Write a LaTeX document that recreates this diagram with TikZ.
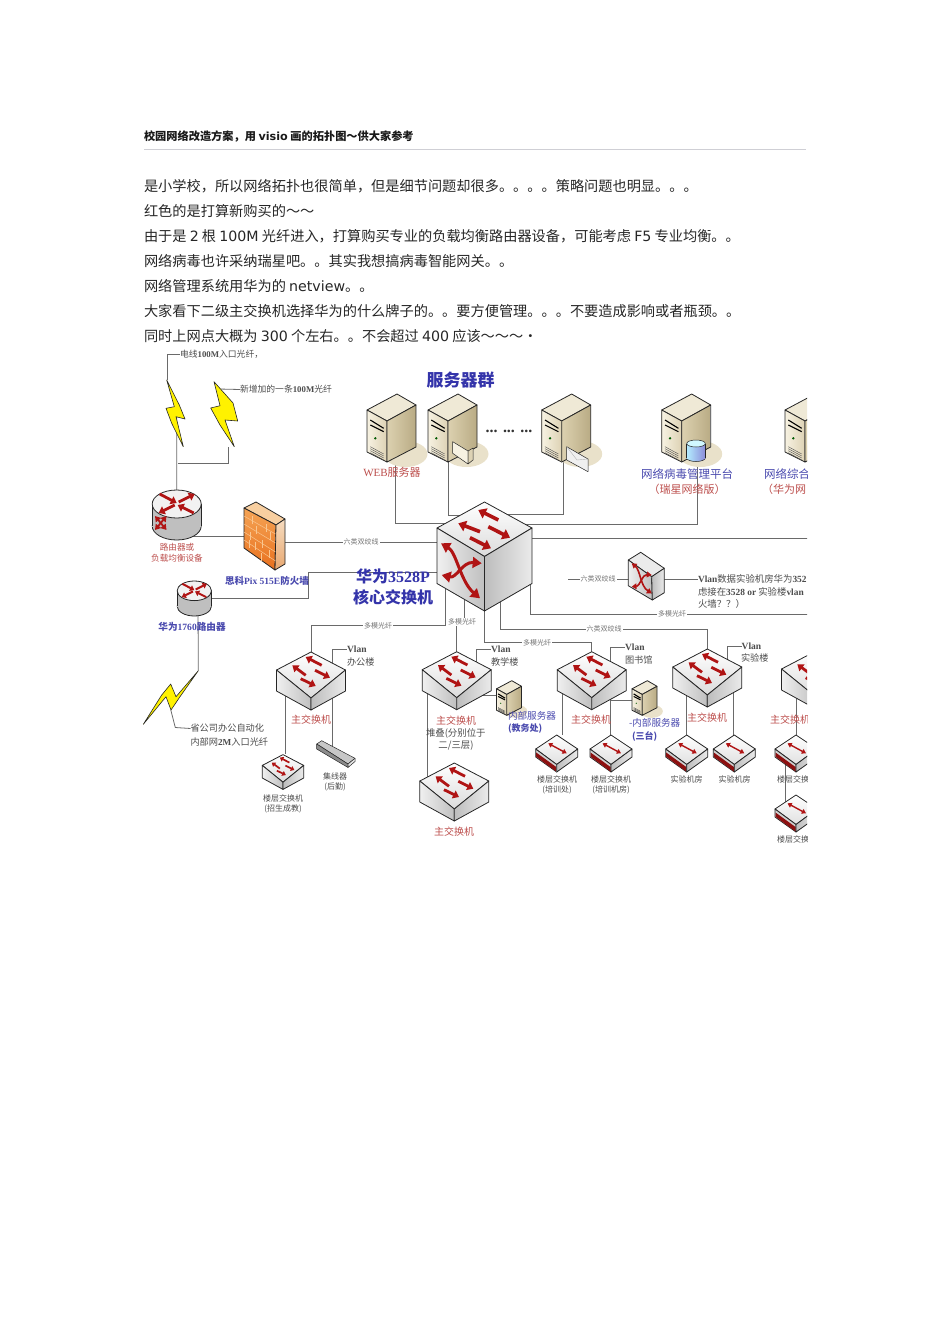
\documentclass[tikz,border=0pt]{standalone}
\usepackage{fontspec}
\setmainfont{Noto Sans CJK SC}
\newfontfamily\dv{DejaVu Sans}
\newfontfamily\tms{Liberation Serif}
\usetikzlibrary{arrows.meta}

\definecolor{arrowred}{HTML}{B01414}
\definecolor{labelred}{HTML}{BC4E4C}
\definecolor{labelblue}{HTML}{4A4AAE}
\definecolor{bigblue}{HTML}{3434AA}
\definecolor{labelgray}{HTML}{4C4C4C}
\definecolor{wiregray}{HTML}{6A6A6A}
\definecolor{srvtop}{HTML}{EFE9D6}
\definecolor{srvfrontl}{HTML}{F7F2E2}
\definecolor{srvfrontr}{HTML}{DDD2B4}
\definecolor{srvsidel}{HTML}{DCD1B0}
\definecolor{srvsider}{HTML}{B9AB84}
\definecolor{srvshade}{HTML}{E9E1CA}
\definecolor{walltop}{HTML}{F8CFA0}
\definecolor{walllight}{HTML}{F5A455}
\definecolor{walldeep}{HTML}{E8701E}
\definecolor{wallbrick}{HTML}{F9C690}
\definecolor{wallsidel}{HTML}{F6DCC0}
\definecolor{wallsider}{HTML}{E8A870}

\tikzset{
	devnode/.style 2 args={inner sep=0pt,outer sep=0pt,minimum width=#1,minimum height=#2},
	wire/.style={draw=wiregray,line width=0.8pt},
	edgeline/.style={draw=black!85,line width=0.8pt,line join=round},
	redarrow/.style={draw=arrowred,line width=2.8pt,-{Triangle[length=0pt 2.1,width=0pt 3]}},
	redtwo/.style={draw=arrowred,line width=1.4pt,{Triangle[length=0pt 3,width=0pt 3.6]}-{Triangle[length=0pt 3,width=0pt 3.6]}},
	txt/.style={inner sep=0pt,outer sep=0pt},
	bodytext/.style={txt,anchor=west,text=black!85,font=\fontsize{14.2}{16}\selectfont},
	linklabel/.style={fill=white,inner sep=1pt,text=black!55,font=\fontsize{7}{8}\selectfont},
	reddev/.style={txt,text=labelred,font=\fontsize{10}{11}\selectfont},
	bluedev/.style={txt,text=labelblue,font=\fontsize{9.6}{11}\selectfont},
	graydev/.style={txt,text=labelgray,font=\fontsize{8}{9}\selectfont},
	sidetext/.style={txt,anchor=west,text=labelgray,font=\fontsize{9.2}{10}\selectfont},
	bigtext/.style={txt,text=bigblue,font=\fontsize{16}{18}\bfseries\selectfont},
	%Core switch
	coreswitch/.pic={
		\path[edgeline,top color=white,bottom color=black!14] (0,-54.5) -- (47.5,-28.5) -- (0,0) -- (-47.5,-28.5) -- cycle;
		\path[edgeline,left color=black!6,right color=black!25] (-47.5,-28.5) -- (0,0) -- (0,54.5) -- (-47.5,27) -- cycle;
		\path[edgeline,left color=black!26,right color=black!8] (0,0) -- (47.5,-28.5) -- (47.5,27) -- (0,54.5) -- cycle;
		\draw[redarrow,line width=3.6pt] (13.8,-36.5) -- (-6.2,-46.5);
		\draw[redarrow,line width=3.6pt] (-4.5,-24.8) -- (-26.2,-33.2);
		\draw[redarrow,line width=3.6pt] (3.8,-29.8) -- (25.5,-18.8);
		\draw[redarrow,line width=3.6pt] (-14.5,-18.8) -- (6.5,-8.2);
		\draw[redtwo,line width=3pt] (-43.5,-13.2) .. controls (-28,-4) and (-24,25) .. (-4.5,41.8);
		\draw[redtwo,line width=3pt] (-42.8,18.5) .. controls (-28,22) and (-22,5) .. (-2.8,6.8);
	},
	%Building switch with four arrows
	mainswitch/.pic={
		\path[edgeline,top color=white,bottom color=black!14] (0,-29) -- (34.5,-11) -- (0,17) -- (-34.5,-11) -- cycle;
		\path[edgeline,left color=black!6,right color=black!25] (-34.5,-11) -- (0,17) -- (0,29) -- (-34.5,10) -- cycle;
		\path[edgeline,left color=black!26,right color=black!8] (0,17) -- (34.5,-11) -- (34.5,10) -- (0,29) -- cycle;
		\draw[redarrow] (10.7,-15.7) -- (-5.3,-24);
		\draw[redarrow] (-5.3,-5.7) -- (-18.7,-15.7);
		\draw[redarrow] (4,-10.7) -- (19,-3.3);
		\draw[redarrow] (-10.3,-2.3) -- (4.7,5);
	},
	%Floor switch with the red band
	floorswitch/.pic={
		\path[edgeline,top color=white,bottom color=black!12] (0,-18.5) -- (21,-4.5) -- (0,11) -- (-21,-4.5) -- cycle;
		\path[edgeline,fill=black!18] (-21,-4.5) -- (0,11) -- (0,18.5) -- (-21,3.5) -- cycle;
		\path[fill=arrowred!80!black] (-20.5,-1) -- (-0.5,13.5) -- (-0.5,18) -- (-20.5,3.2) -- cycle;
		\path[edgeline,left color=black!26,right color=black!8] (0,11) -- (21,-4.5) -- (21,3.5) -- (0,18.5) -- cycle;
		\draw[redtwo] (-8.5,-10.2) -- (10,-0.2);
	},
	%Upright switch with the red cross
	crossswitch/.pic={
		\path[edgeline,fill=black!8] (-5.6,-23.7) -- (18,-7.7) -- (5.4,0.7) -- (-18,-16) -- cycle;
		\path[edgeline,left color=black!6,right color=black!25] (-18,-16) -- (5.4,0.7) -- (6,24) -- (-18,9.7) -- cycle;
		\path[edgeline,left color=black!26,right color=black!8] (5.4,0.7) -- (18,-7.7) -- (18,16.7) -- (6,24) -- cycle;
		\draw[redtwo,line width=1.6pt] (-14.6,-12.7) .. controls (-6,-6) and (-6,10) .. (5.4,17.3);
		\draw[redtwo,line width=1.6pt] (-14.6,10.7) .. controls (-6,10) and (-4,-2) .. (5.4,-1);
	},
	%Server
	serverpic/.pic={
		\fill[srvshade] (14,26) ellipse [x radius=22,y radius=13];
		\path[edgeline,fill=srvtop] (-24.5,-18) -- (5.5,-34) -- (24.5,-23) -- (-4.5,-7) -- cycle;
		\path[edgeline,left color=srvfrontl,right color=srvfrontr] (-24.5,-18) -- (-4.5,-7) -- (-4.5,34) -- (-24.5,24) -- cycle;
		\path[edgeline,left color=srvsidel,right color=srvsider] (-4.5,-7) -- (24.5,-23) -- (24.5,19) -- (-4.5,34) -- cycle;
		\draw[black,line width=1.1pt] (-21.2,-8) -- (-7.8,0.3);
		\draw[black,line width=1.1pt] (-21.2,-3) -- (-7.8,3.7);
		\fill[green!35!black] (-16.2,10.3) circle (1.3);
		\foreach \i in {0,2,4,6}
			\draw[black!70,line width=0.4pt] (-21.2,18.7+\i) -- (-7.8,26+\i);
	},
	%Router
	routerpic/.pic={
		\path[edgeline,left color=black!25,middle color=white,right color=black!25] (0,11) ellipse [x radius=24.5,y radius=14];
		\path[left color=black!25,middle color=white,right color=black!25] (-24.5,-11) rectangle (24.5,11);
		\draw[edgeline] (-24.5,-11) -- (-24.5,11);
		\draw[edgeline] (24.5,-11) -- (24.5,11);
		\path[edgeline,fill=black!5] (0,-11) ellipse [x radius=24.5,y radius=14];
		\draw[redarrow] (-17,-21) -- (0,-12);
		\draw[redarrow] (2,-13) -- (18,-21);
		\draw[redarrow] (-2,-10) -- (-18,-2);
		\draw[redarrow] (17,-2) -- (1,-10);
	},
	%Firewall
	firewallpic/.pic={
		\path[edgeline,fill=walltop] (-8.5,-34) -- (20.5,-17) -- (11.5,-11) -- (-20.5,-28) -- cycle;
		\path[edgeline,top color=walllight,bottom color=walldeep] (-20.5,-28) -- (11.5,-11) -- (10.5,34) -- (-20.5,12) -- cycle;
		\path[edgeline,top color=wallsidel,bottom color=wallsider] (11.5,-11) -- (20.5,-17) -- (20.5,28) -- (10.5,34) -- cycle;
		\foreach \k in {1,2,3,4}
			\draw[wallbrick,line width=0.5pt] (-20.5,-28+8*\k) -- (11,-11+9*\k);
		\foreach \x/\y in {-12/-20,2/-12,-8/-10,6/-4,-14/-4,-2/4,-9/6,5/14,-15/4,-3/17}
			\draw[wallbrick,line width=0.5pt] (\x,\y) -- (\x,\y+8);
	},
}

\begin{document}
\begin{tikzpicture}[x=1pt,y=-1pt]
	\useasboundingbox (0,0) rectangle (950,1344);
	%Title
		\node[txt,anchor=west,text=black!90,font=\fontsize{11.2}{13}\bfseries\selectfont] (title) at (144,136) {校园网络改造方案，用 {\dv\bfseries visio} 画的拓扑图～供大家参考};
		\draw[black!15!blue!8!gray!35] (144,149.5) -- (806,149.5);
	%Body text
		\node[bodytext] (lineone) at (144,186) {是小学校，所以网络拓扑也很简单，但是细节问题却很多。。。。策略问题也明显。。。};
		\node[bodytext] (linetwo) at (144,211) {红色的是打算新购买的～～};
		\node[bodytext] (linethree) at (144,236) {由于是 {\dv 2} 根 {\dv 100M} 光纤进入，打算购买专业的负载均衡路由器设备，可能考虑 {\dv F5} 专业均衡。。};
		\node[bodytext] (linefour) at (144,261) {网络病毒也许采纳瑞星吧。。其实我想搞病毒智能网关。。};
		\node[bodytext] (linefive) at (144,286) {网络管理系统用华为的 {\dv netview}。。};
		\node[bodytext] (linesix) at (144,311) {大家看下二级主交换机选择华为的什么牌子的。。要方便管理。。。不要造成影响或者瓶颈。。};
		\node[bodytext] (lineseven) at (144,336) {同时上网点大概为 {\dv 300} 个左右。。不会超过 {\dv 400} 应该～～～·};
	\begin{scope}
		\clip (140,345) rectangle (807,850);
	%Device places
		\node[devnode={95pt}{109pt}] (core) at (484.5,556.5) {};
		\node[devnode={49pt}{68pt}] (webserver) at (391.5,428) {};
		\node[devnode={49pt}{68pt}] (fileserver) at (452.5,428) {};
		\node[devnode={49pt}{68pt}] (mailserver) at (566.2,428) {};
		\node[devnode={49pt}{68pt}] (virusserver) at (686.2,428) {};
		\node[devnode={49pt}{68pt}] (netserver) at (809.5,428) {};
		\node[devnode={49pt}{50pt}] (router) at (176.7,515) {};
		\node[devnode={34pt}{35pt}] (routertwo) at (194.3,598.5) {};
		\node[devnode={41pt}{68pt}] (firewall) at (264.5,536) {};
		\node[devnode={36pt}{48pt}] (vlanswitch) at (646.3,576) {};
		\node[devnode={69pt}{58pt}] (officesw) at (311,681) {};
		\node[devnode={69pt}{58pt}] (teachsw) at (456.7,680.7) {};
		\node[devnode={69pt}{58pt}] (stacksw) at (454.3,792) {};
		\node[devnode={69pt}{58pt}] (libsw) at (591.7,680.7) {};
		\node[devnode={69pt}{58pt}] (labsw) at (707.3,678) {};
		\node[devnode={69pt}{58pt}] (rightsw) at (816,680) {};
		\node[devnode={42pt}{36pt}] (officefloor) at (283,772) {};
		\node[devnode={38pt}{27pt}] (hub) at (336,753.5) {};
		\node[devnode={25pt}{34pt}] (teachsrv) at (509,698) {};
		\node[devnode={25pt}{34pt}] (libsrv) at (644.5,698) {};
		\node[devnode={42pt}{37pt}] (trainone) at (556.7,753.5) {};
		\node[devnode={42pt}{37pt}] (traintwo) at (611,753.5) {};
		\node[devnode={42pt}{37pt}] (labone) at (686.7,753.5) {};
		\node[devnode={42pt}{37pt}] (labtwo) at (734.3,753.5) {};
		\node[devnode={42pt}{37pt}] (floorright) at (796,753.5) {};
		\node[devnode={42pt}{37pt}] (floorlast) at (796,813.5) {};
		\node[devnode={19pt}{67pt}] (boltone) at (175.5,413.5) {};
		\node[devnode={27pt}{65pt}] (bolttwo) at (224.2,414.5) {};
		\node[devnode={55pt}{54pt}] (boltthree) at (170.8,697.5) {};
		\coordinate (rightout) at (820,538);
		\coordinate (fibreout) at (820,614);
		\coordinate (jogone) at (308,572);
		\coordinate (vlanleft) at (568,579);
	%Labels that wires end on
		\node[sidetext,font=\fontsize{8.8}{10}\selectfont] (fibrelabel) at (180,354) {电线{\tms\bfseries 100M}入口光纤，};
		\node[sidetext,font=\fontsize{8.8}{10}\selectfont] (newfibrelabel) at (240,389.5) {新增加的一条{\tms\bfseries 100M}光纤};
		\node[sidetext] (oalabel) at (190.5,728.5) {省公司办公自动化};
		\node[sidetext] (oalabeltwo) at (190.5,742) {内部网{\tms\bfseries 2M}入口光纤};
		\node[sidetext,font=\fontsize{9.4}{10}\selectfont] (vlantext) at (698,579) {{\tms\bfseries Vlan}数据实验机房华为{\tms\bfseries 352}};
		\node[sidetext,font=\fontsize{9.4}{10}\selectfont] (vlantexttwo) at (698,591.5) {虑接在{\tms\bfseries 3528 or} 实验楼{\tms\bfseries vlan}};
		\node[sidetext,font=\fontsize{9.4}{10}\selectfont] (vlantextthree) at (698,604) {火墙？？）};
		\node[sidetext,font=\fontsize{9.5}{10}\bfseries\selectfont] (officevlan) at (347,649.5) {\tms Vlan};
		\node[sidetext,font=\fontsize{9.5}{10}\bfseries\selectfont] (teachvlan) at (491,649.5) {\tms Vlan};
		\node[sidetext,font=\fontsize{9.5}{10}\bfseries\selectfont] (libvlan) at (625,647) {\tms Vlan};
		\node[sidetext,font=\fontsize{9.5}{10}\bfseries\selectfont] (labvlan) at (741.7,646) {\tms Vlan};
	%Server wires
		\draw[wire] ([xshift=3.5pt]webserver.south) |- ([yshift=33pt]core.center);
		\draw[wire] ([xshift=-4.5pt]fileserver.south) |- ([yshift=41.5pt]core.center);
		\draw[wire] ([xshift=-3pt]mailserver.south) |- ([yshift=42.5pt]core.center);
		\draw[wire] ([xshift=11pt]virusserver.south) |- ([yshift=32.5pt]core.center);
		\draw[wire] ([yshift=18.5pt]core.center) -- (rightout);
		\draw[wire] ([xshift=45.5pt]core.center) |- (fibreout);
	%Entry wires
		\draw[wire] ([yshift=-6pt]firewall.center) -- ([yshift=14.5pt]core.center);
		\draw[wire] ([yshift=-21pt]router.center) -- (firewall.center);
		\draw[wire] (router.north) -- ([xshift=1.3pt]boltone.center);
		\draw[wire] ([xshift=1.3pt,yshift=52pt]router.center) -| ([xshift=3.8pt]bolttwo.south);
		\draw[wire] ([xshift=1pt]boltone.north west) |- (fibrelabel.west);
		\draw[wire] ([xshift=8pt,yshift=-7pt]bolttwo.north west) -- (newfibrelabel.west);
		\draw[wire] (routertwo.center) -| (jogone) -- ([yshift=-15.5pt]core.center);
		\draw[wire] ([xshift=3.7pt]routertwo.center) -- (boltthree.north east);
		\draw[wire] ([yshift=-12.5pt]boltthree.center) -- ([xshift=4.5pt,yshift=-30pt]boltthree.center) -- (oalabel.west);
	%Building wires
		\draw[wire] ([xshift=-39pt]core.center) |- ([yshift=26.3pt]officesw.north) -- (officesw.north);
		\draw[wire] ([xshift=-20.5pt]core.center) |- ([yshift=30pt]teachsw.north) -- (teachsw.north);
		\draw[wire] (core.center) |- ([yshift=9pt]libsw.north) -- (libsw.north);
		\draw[wire] ([xshift=15.5pt]core.center) |- ([yshift=20pt]labsw.north) -- (labsw.north);
		\draw[wire] ([yshift=-3pt]vlanswitch.center) -- (vlanleft);
		\draw[wire] ([yshift=-3pt]vlanswitch.center) -- (vlantext.west);
	%Vlan ticks
		\draw[wire] ([xshift=21.7pt]officesw.center) |- (officevlan.west);
		\draw[wire] ([xshift=20pt]teachsw.center) |- (teachvlan.west);
		\draw[wire] ([xshift=19pt]libsw.center) |- (libvlan.west);
		\draw[wire] ([xshift=20.4pt]labsw.center) |- (labvlan.west);
	%Floor wires
		\draw[wire] ([xshift=-26pt]officesw.center) -- ([xshift=2pt]officefloor.north);
		\draw[wire] ([xshift=21.7pt]officesw.center) -- ([xshift=-3.3pt]hub.center);
		\draw[wire] ([xshift=-29.4pt]teachsw.center) -- ([xshift=-27pt]stacksw.center);
		\draw[wire] ([yshift=-14.3pt]teachsw.center) -- ([yshift=3pt]teachsrv.center);
		\draw[wire] ([xshift=18.3pt,yshift=-19.3pt]libsw.center) -- ([yshift=-2pt]libsrv.center);
		\draw[wire] ([xshift=-29pt]libsw.center) -- ([xshift=6pt]trainone.north);
		\draw[wire] ([xshift=18.3pt]libsw.center) -- ([xshift=-1pt]traintwo.north);
		\draw[wire] ([xshift=-20.6pt]labsw.center) -- (labone.north);
		\draw[wire] ([xshift=26pt]labsw.center) -- ([xshift=-1pt]labtwo.north);
		\draw[wire] ([xshift=-20pt]rightsw.center) -- (floorright.north);
		\draw[wire] ([xshift=-10.3pt]floorright.center) -- ([xshift=-10.3pt]floorlast.center);
	%Wire labels
		\node[linklabel] (twistfw) at (361,542) {六类双绞线};
		\node[linklabel] (twistvlan) at (598,579) {六类双绞线};
		\node[linklabel] (fibreone) at (672,614) {多模光纤};
		\node[linklabel] (fibreoffice) at (378,625.7) {多模光纤};
		\node[linklabel] (fibreteach) at (462,622) {多模光纤};
		\node[linklabel] (fibrelib) at (537,642.7) {多模光纤};
		\node[linklabel] (twistlab) at (604,629) {六类双绞线};
	%Lightning
		\path[edgeline,fill=yellow,line width=0.6pt] (166.7,380) -- (179.3,405) -- (185,419) -- (176,416.7) -- (183.3,446.7) -- (171.7,423.3) -- (166,408.3) -- (174.3,406.7) -- cycle;
		\path[edgeline,fill=yellow,line width=0.6pt] (214,381.7) -- (233,403) -- (237.7,421) -- (225,420) -- (234.3,446.7) -- (220,425) -- (210.7,408) -- (220,405.7) -- cycle;
		\path[edgeline,fill=yellow,line width=0.6pt] (198.3,670.7) -- (180,696.7) -- (171,710) -- (166,696.7) -- (143.3,724.3) -- (161.7,695) -- (170.7,684) -- (176,696.7) -- cycle;
	%Servers
		\pic at (webserver) {serverpic};
		\pic at (fileserver) {serverpic};
		\pic at (mailserver) {serverpic};
		\pic at (virusserver) {serverpic};
		\pic at (netserver) {serverpic};
		\pic[scale=.51] at (teachsrv) {serverpic};
		\pic[scale=.51] at (libsrv) {serverpic};
		%Folder
		\path[edgeline,line width=0.5pt,fill=srvfrontl] (452.7,441.7) -- (468,451) -- (468,464) -- (452.7,453.3) -- cycle;
		\path[edgeline,line width=0.5pt,fill=srvfrontr] (468,451) -- (473,448) -- (473,460) -- (468,464) -- cycle;
		%Envelope
		\path[edgeline,line width=0.5pt,fill=black!6] (566.7,446.7) -- (588,459) -- (588,471.7) -- (566.7,460) -- cycle;
		\draw[black!30,line width=0.4pt] (566.7,446.7) -- (577,460) -- (588,459);
		%Database
		\path[edgeline,left color=blue!25!cyan!30!white,right color=blue!50!gray!60!white,line width=0.5pt] (696,458) ellipse [x radius=9.3,y radius=3.5];
		\path[left color=blue!25!cyan!30!white,right color=blue!50!gray!60!white] (686.7,443.5) rectangle (705.3,458);
		\draw[edgeline,line width=0.5pt] (686.7,443.5) -- (686.7,458);
		\draw[edgeline,line width=0.5pt] (705.3,443.5) -- (705.3,458);
		\path[edgeline,fill=blue!15!cyan!18!white,line width=0.5pt] (696,443.5) ellipse [x radius=9.3,y radius=3.5];
	%Switches and routers
		\pic at (core) {coreswitch};
		\pic at (vlanswitch) {crossswitch};
		\pic at (officesw) {mainswitch};
		\pic at (teachsw) {mainswitch};
		\pic at (stacksw) {mainswitch};
		\pic at (libsw) {mainswitch};
		\pic at (labsw) {mainswitch};
		\pic at (rightsw) {mainswitch};
		\pic[scale=.6,redarrow/.append style={line width=1.7pt}] at (officefloor) {mainswitch};
		\pic at (trainone) {floorswitch};
		\pic at (traintwo) {floorswitch};
		\pic at (labone) {floorswitch};
		\pic at (labtwo) {floorswitch};
		\pic at (floorright) {floorswitch};
		\pic at (floorlast) {floorswitch};
		\pic at (router) {routerpic};
		\draw[redtwo,line width=1.8pt] (155,516) -- (166.5,530);
		\draw[redtwo,line width=1.8pt] (166.5,516) -- (155,530);
		\pic[scale=.7,redarrow/.append style={line width=2pt}] at (routertwo) {routerpic};
		\pic at (firewall) {firewallpic};
	%Hub
		\path[edgeline,line width=0.5pt,fill=black!22] (316.7,744) -- (321.7,740.7) -- (355,758.3) -- (348,764) -- cycle;
		\path[edgeline,line width=0.5pt,fill=black!45] (316.7,744) -- (348,764) -- (348,767.5) -- (316.7,749) -- cycle;
		\path[edgeline,line width=0.5pt,fill=black!10] (348,764) -- (355,758.3) -- (355,761.5) -- (348,767.5) -- cycle;
	%Server labels
		\node[bigtext,font=\fontsize{17}{19}\bfseries\selectfont] (farmtitle) at (460.5,380) {服务器群};
		\node[reddev,font=\fontsize{11}{12}\selectfont] (weblabel) at (392,472) {{\tms WEB}服务器};
		\node[txt,font=\fontsize{16}{17}\bfseries\selectfont,text=black!80] (dotslabel) at (509,431) {\tms ... ... ...};
		\node[bluedev,font=\fontsize{11.5}{13}\selectfont] (viruslabel) at (687,474) {网络病毒管理平台};
		\node[reddev,font=\fontsize{11}{13}\selectfont] (virussub) at (687,489) {（瑞星网络版）};
		\node[bluedev,anchor=west,font=\fontsize{11.5}{13}\selectfont] (netlabel) at (764,474) {网络综合};
		\node[reddev,anchor=west,font=\fontsize{11}{13}\selectfont] (netsub) at (762,489) {（华为网};
	%Entry labels
		\node[reddev,font=\fontsize{8.6}{10}\selectfont] (routerlabel) at (177,547) {路由器或};
		\node[reddev,font=\fontsize{8.6}{10}\selectfont] (routersub) at (177,558) {负载均衡设备};
		\node[bluedev,font=\fontsize{9.5}{10}\bfseries\selectfont] (firewalllabel) at (267,580.5) {思科{\tms Pix 515E}防火墙};
		\node[bluedev,font=\fontsize{9.6}{10}\bfseries\selectfont] (routertwolabel) at (192,627) {华为{\tms 1760}路由器};
		\node[bigtext] (corelabel) at (393,576) {华为{\tms 3528P}};
		\node[bigtext] (coresub) at (393,597) {核心交换机};
	%Building labels
		\node[sidetext] (officename) at (347,662) {办公楼};
		\node[sidetext] (teachname) at (491,661.5) {教学楼};
		\node[sidetext] (libname) at (625,659.5) {图书馆};
		\node[sidetext] (labname) at (741,658) {实验楼};
		\node[reddev] (officemain) at (311,720) {主交换机};
		\node[reddev] (teachmain) at (456,721) {主交换机};
		\node[reddev] (stackmain) at (454,832) {主交换机};
		\node[reddev] (libmain) at (591,720) {主交换机};
		\node[reddev] (labmain) at (707,718) {主交换机};
		\node[reddev,anchor=west] (rightmain) at (770,720) {主交换机};
		\node[sidetext,font=\fontsize{9.4}{10}\selectfont] (stackone) at (426,733.5) {堆叠(分别位于};
		\node[txt,text=labelgray,font=\fontsize{9.4}{10}\selectfont] (stacktwo) at (456,746) {二/三层)};
		\node[bluedev,anchor=west] (srvone) at (508,716) {内部服务器};
		\node[bluedev,anchor=west,font=\fontsize{9}{10}\bfseries\selectfont] (srvonesub) at (508,729) {(教务处)};
		\node[bluedev,anchor=west] (srvtwo) at (629,723) {-内部服务器};
		\node[bluedev,anchor=west,font=\fontsize{9}{10}\bfseries\selectfont] (srvtwosub) at (632,736) {(三台)};
	%Floor labels
		\node[graydev] (officefloorlabel) at (283,798) {楼层交换机};
		\node[graydev] (officefloorsub) at (283,808.5) {(招生成教)};
		\node[graydev] (hublabel) at (335,776) {集线器};
		\node[graydev] (hubsub) at (335,787) {(后勤)};
		\node[graydev] (trainonelabel) at (557,779) {楼层交换机};
		\node[graydev] (trainonesub) at (557,790) {(培训处)};
		\node[graydev] (traintwolabel) at (611,779) {楼层交换机};
		\node[graydev] (traintwosub) at (611,790) {(培训机房)};
		\node[graydev] (labonelabel) at (686.5,779) {实验机房};
		\node[graydev] (labtwolabel) at (734.5,779) {实验机房};
		\node[graydev,anchor=west] (rightfloorlabel) at (777,779) {楼层交换};
		\node[graydev,anchor=west] (lastfloorlabel) at (777,839.5) {楼层交换};
	\end{scope}
\end{tikzpicture}
\end{document}
